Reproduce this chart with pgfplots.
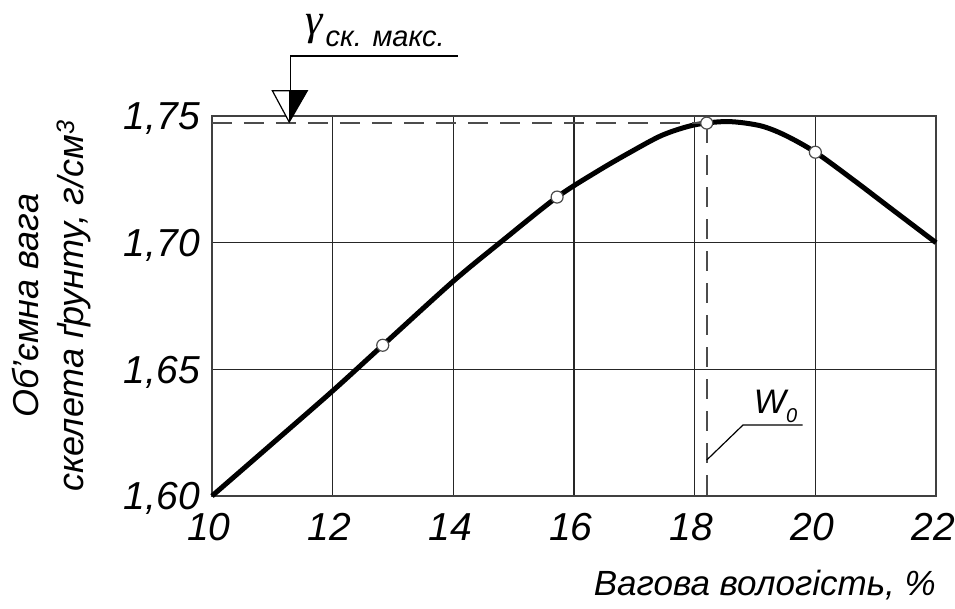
\documentclass[border=0pt]{standalone}
\usepackage{pgfplots}
\pgfplotsset{compat=1.18}
\usepackage{fontspec}
\setmainfont{Liberation Sans}
\newfontfamily\gfont{Liberation Serif}
\usetikzlibrary{calc}
\begin{document}
\begin{tikzpicture}
\begin{axis}[
  scale only axis, width=724pt, height=380pt,
  xmin=10, xmax=22, ymin=1.60, ymax=1.75,
  xtick={10,12,14,16,18,20,22},
  xticklabels={\textit{10},\textit{12},\textit{14},\textit{16},\textit{18},\textit{20},\textit{22}},
  ytick={1.60,1.65,1.70,1.75},
  yticklabels={\textit{1,60},\textit{1,65},\textit{1,70},\textit{1,75}},
  grid=major,
  major grid style={black!85, line width=1.3pt},
  axis line style={black!75, line width=1.8pt},
  major tick length=0pt,
  clip=false,
  ticklabel style={font=\fontsize{39}{42}\selectfont\itshape},
  x tick label style={anchor=north, inner sep=0pt, yshift=-16pt, xshift=-3pt, text height=28pt, text depth=0pt},
  y tick label style={anchor=east, inner sep=0pt, xshift=-12pt, text height=28pt, text depth=0pt},
  xlabel={Вагова вологість, \%},
  xlabel style={font=\fontsize{35}{40}\selectfont\itshape, at={(rel axis cs:1,0)}, anchor=base east, yshift=-100pt, inner sep=0pt},
  ylabel={Об’ємна вага\\скелета ґрунту, г/см\textsuperscript{3}},
  ylabel style={font=\fontsize{36}{45}\selectfont\itshape, align=center, at={([xshift=-160pt]rel axis cs:0,0.5)}, anchor=center},
]
\addplot[black, line width=5pt, smooth, tension=0.5] coordinates {
 (10,1.600) (11,1.6207) (12,1.6415) (12.83,1.6595) (14,1.6848) (14.8,1.7005)
 (15.72,1.7180) (16.39,1.7282) (16.94,1.7358) (17.47,1.7425) (18.0,1.7465)
 (18.55,1.7478) (19.08,1.7462) (19.49,1.7425) (20.0,1.7357) (20.64,1.7246)
 (21.23,1.7139) (22,1.700)
};
\addplot[black!70, line width=1.6pt, dash pattern=on 20pt off 12pt] coordinates {(10,1.7472) (18.2,1.7472)};
\addplot[black!70, line width=1.6pt, dash pattern=on 20pt off 12pt] coordinates {(18.2,1.7472) (18.2,1.60)};
\addplot[only marks, mark=*, mark size=6pt, mark options={fill=white, draw=black!70, line width=1.2pt}] coordinates {
 (12.83,1.6595) (15.72,1.718) (18.2,1.7472) (20,1.7357)
};
% annotation gamma
\draw[black, line width=1.2pt, fill=white] (axis cs:11.0,1.7600) -- (axis cs:11.28,1.7476) -- (axis cs:11.58,1.7600) -- cycle;
\fill[black] (axis cs:11.28,1.7600) -- (axis cs:11.28,1.7476) -- (axis cs:11.58,1.7600) -- cycle;
\draw[black, line width=1.2pt] (axis cs:11.30,1.7600) -- (axis cs:11.30,1.7737) -- (axis cs:14.08,1.7737);
\node[anchor=base west, inner sep=0pt, font=\fontsize{29}{30}\selectfont\itshape] at (axis cs:11.88,1.7775) {ск. макс.};
\node[anchor=center, inner sep=0pt, font=\fontsize{44}{44}\selectfont\gfont\itshape] at (axis cs:11.70,1.7842) {γ};
% annotation W0
\draw[black, line width=1.2pt] (axis cs:18.2,1.6142) -- (axis cs:18.8,1.628) -- (axis cs:19.79,1.628);
\node[anchor=base west, inner sep=0pt, font=\fontsize{34}{34}\selectfont\itshape] at (axis cs:18.98,1.6325) {W\raisebox{-0.25em}{\fontsize{20}{20}\selectfont 0}};
\coordinate (sw) at (rel axis cs:0,0);
\coordinate (ne) at (rel axis cs:1,1);
\end{axis}
\pgfresetboundingbox
\path ($(sw)+(-212pt,-113pt)$) rectangle ($(ne)+(19pt,116pt)$);
\end{tikzpicture}
\end{document}
